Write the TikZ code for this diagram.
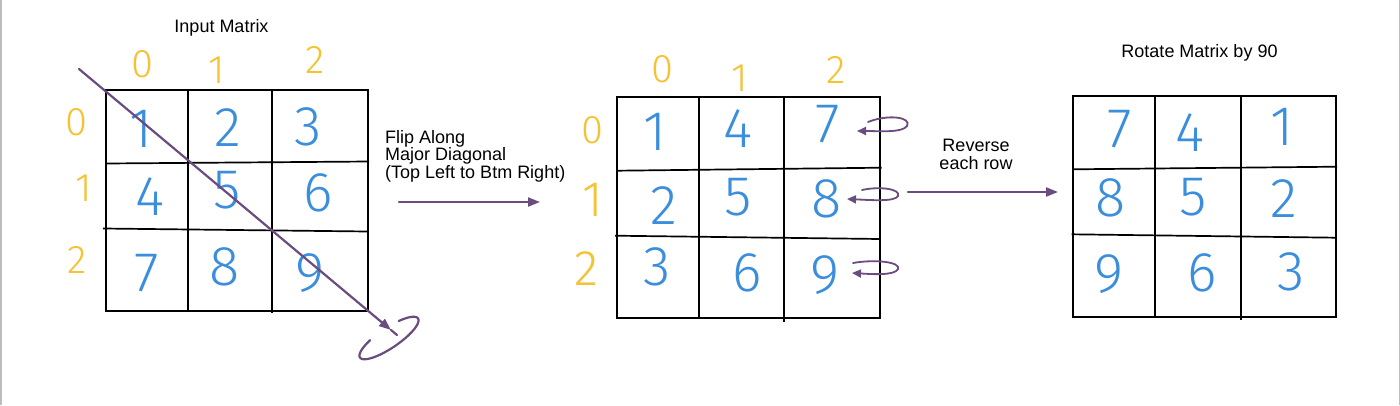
\documentclass[tikz,border=0pt]{standalone}
\usepackage{fontspec}
\setmainfont{Liberation Sans}
\newfontfamily\handfont{Fira Sans Light}
\usetikzlibrary{arrows.meta}
\definecolor{penpurple}{HTML}{6B4C7E}
\definecolor{penblue}{HTML}{3A8EDB}
\definecolor{penyellow}{HTML}{F5C233}
\definecolor{edgegray}{HTML}{BDBDBD}
\tikzset{
  gridline/.style={black, line width=1.7pt},
  cellnum/.style={text=penblue, font=\handfont\fontsize{56}{56}\selectfont, inner sep=0pt},
  idx/.style={text=penyellow, font=\handfont\fontsize{40}{40}\selectfont, inner sep=0pt},
  bigidx/.style={text=penyellow, font=\handfont\fontsize{50}{50}\selectfont, inner sep=0pt},
  caption/.style={font=\fontsize{18}{17.5}\selectfont, inner sep=0pt},
  pen/.style={penpurple, line width=2.2pt, line cap=round},
  bigtip/.style={-{Triangle[length=12pt,width=9pt]}},
  smalltip/.style={-{Triangle[length=9pt,width=8pt]}},
}
\begin{document}
\begin{tikzpicture}[x=1pt,y=-1pt]
\useasboundingbox (0,0) rectangle (1400,405);
\fill[white] (0,0) rectangle (1400,405);
\draw[edgegray, line width=1.5pt] (0.75,0) -- (0.75,405);
\draw[edgegray, line width=1.5pt] (1399.25,0) -- (1399.25,405);

% ---------- captions ----------
\node[caption] (t1) at (221.5,28) {Input Matrix};
\node[caption, anchor=north west, align=left] (t2) at (385,130.2) {Flip Along\\Major Diagonal\\(Top Left to Btm Right)};
\node[caption, anchor=north, align=center] (t3) at (976,139) {Reverse\\each row};
\node[caption] (t4) at (1199.5,53) {Rotate Matrix by 90};

% ---------- matrix 1 ----------
\draw[gridline] (105.7,90) rectangle (368,311);
\draw[gridline] (187.7,90) -- (187.7,311);
\draw[gridline] (272,90) -- (272,313);
\draw[gridline] (105.7,163.5) -- (369,161.5);
\draw[gridline] (103,228.5) -- (368,231.5);

\node[idx] (a-c0) at (142,64) {0};
\node[idx] (a-c1) at (217,70) {1};
\node[idx] (a-c2) at (315,60) {2};
\node[idx] (a-r0) at (76,122) {0};
\node[idx] (a-r1) at (84,188) {1};
\node[idx] (a-r2) at (77,260) {2};

\node[cellnum] (a11) at (141,129) {1};
\node[cellnum] (a12) at (228,128) {2};
\node[cellnum] (a13) at (308,127) {3};
\node[cellnum] (a21) at (150,197) {4};
\node[cellnum] (a22) at (227,190) {5};
\node[cellnum] (a23) at (318,193) {6};
\node[cellnum] (a31) at (147,273) {7};
\node[cellnum] (a32) at (225,267) {8};
\node[cellnum] (a33) at (310,273) {9};

% diagonal with rotation mark
\coordinate (d1) at (79,69);
\coordinate (d2) at (391,330);
\coordinate (d3) at (397,335);
\draw[pen, bigtip] (d1) -- (d2);
\draw[pen] (d2) -- (d3);
\draw[pen] plot[domain=-60:241, samples=90, smooth]
  ({389+35*cos(\x)*0.829+10*sin(\x)*0.559},{338-35*cos(\x)*0.559+10*sin(\x)*0.829});

% arrow 1
\coordinate (f1) at (399,202);
\coordinate (f2) at (540,202);
\draw[pen, bigtip] (f1) -- (f2);

% ---------- matrix 2 ----------
\draw[gridline] (617.3,97.3) rectangle (880,318.3);
\draw[gridline] (699.3,97.3) -- (699.3,318.3);
\draw[gridline] (784.3,97.3) -- (784.3,321.7);
\draw[gridline] (617.3,170.7) -- (881.7,167.7);
\draw[gridline] (615,235.7) -- (880,239);

\node[idx] (b-c0) at (662,69) {0};
\node[idx] (b-c1) at (740,78) {1};
\node[idx] (b-c2) at (836,70) {2};
\node[idx] (b-r0) at (592,130) {0};
\node[bigidx] (b-r1) at (593,200) {1};
\node[bigidx] (b-r2) at (586,269) {2};

\node[cellnum] (b11) at (655,132) {1};
\node[cellnum] (b12) at (738,129) {4};
\node[cellnum] (b13) at (828,124) {7};
\node[cellnum] (b21) at (664,206) {2};
\node[cellnum] (b22) at (738,197) {5};
\node[cellnum] (b23) at (827,199) {8};
\node[cellnum] (b31) at (657,267) {3};
\node[cellnum] (b32) at (747,273) {6};
\node[cellnum] (b33) at (825,275) {9};

% reverse loops
\coordinate (l0s) at (868,122);
\coordinate (l0e) at (857,131);
\draw[pen, line width=1.8pt, smalltip] (l0s) .. controls (888,114) and (912,117) .. (907,126)
  .. controls (902,133) and (880,131) .. (l0e);
\coordinate (l1s) at (862,190);
\coordinate (l1e) at (847,199);
\draw[pen, line width=1.8pt, smalltip] (l1s) .. controls (880,186) and (901,189) .. (898,196)
  .. controls (895,202) and (870,200) .. (l1e);
\coordinate (l2s) at (853,263);
\coordinate (l2e) at (852,273);
\draw[pen, line width=1.8pt, smalltip] (l2s) .. controls (875,259) and (901,262) .. (898,269)
  .. controls (895,276) and (870,274) .. (l2e);

% arrow 2
\coordinate (g1) at (908,192);
\coordinate (g2) at (1058,192);
\draw[pen, bigtip] (g1) -- (g2);

% ---------- matrix 3 ----------
\draw[gridline] (1073.3,96) rectangle (1336,317.3);
\draw[gridline] (1155.3,96) -- (1155.3,317.3);
\draw[gridline] (1241,96) -- (1241,320);
\draw[gridline] (1073.3,169.3) -- (1337,166.7);
\draw[gridline] (1071.7,234.3) -- (1336,237.7);

\node[cellnum] (c11) at (1120,129) {7};
\node[cellnum] (c12) at (1190,133) {4};
\node[cellnum] (c13) at (1282,127) {1};
\node[cellnum] (c21) at (1111,198) {8};
\node[cellnum] (c22) at (1193,197) {5};
\node[cellnum] (c23) at (1284,199) {2};
\node[cellnum] (c31) at (1109,274) {9};
\node[cellnum] (c32) at (1202,273) {6};
\node[cellnum] (c33) at (1291,272) {3};
\end{tikzpicture}
\end{document}
